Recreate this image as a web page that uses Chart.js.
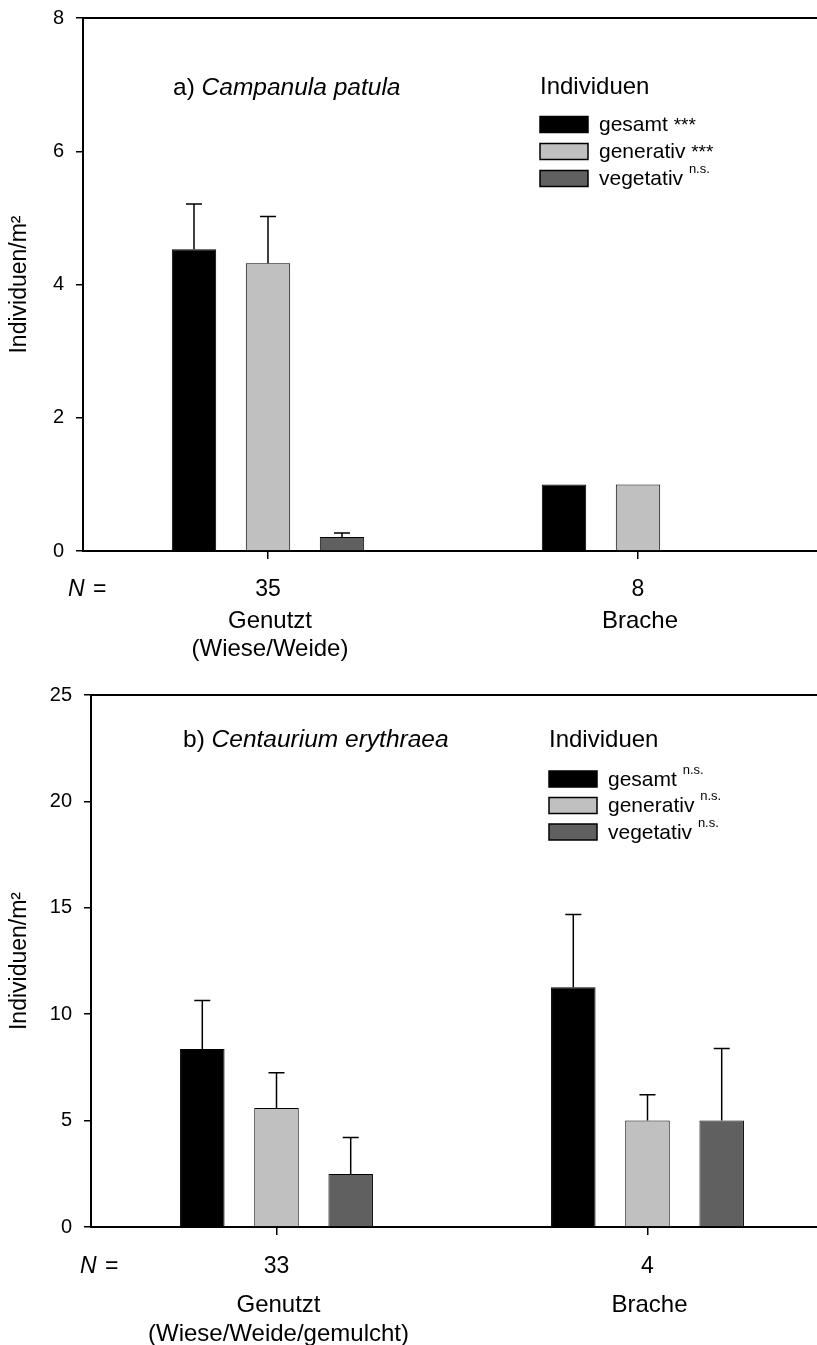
<!DOCTYPE html>
<html>
<head>
<meta charset="utf-8">
<script src="https://cdn.jsdelivr.net/npm/chart.js@4.4.1/dist/chart.umd.min.js"></script>
<style>
  body { margin: 0; background: #fff; overflow: hidden; width: 817px; height: 1345px; }
  canvas { display: block; }
</style>
</head>
<body>
<canvas id="chartA" width="840" height="680"></canvas>
<canvas id="chartB" width="840" height="665"></canvas>
<script>
// a) Campanula patula
const categoriesA = [['Genutzt', '(Wiese/Weide)'], ['Brache']];
const nA = ['35', '8'];
const gesamtA = [4.53, 1.0];
const gesamtErrA = [0.68, 0];
const generativA = [4.32, 1.0];
const generativErrA = [0.70, 0];
const vegetativA = [0.21, 0];
const vegetativErrA = [0.06, 0];
const sigA = ['***', '***', 'n.s.'];
const yTicksA = [0, 2, 4, 6, 8];

// b) Centaurium erythraea
const categoriesB = [['Genutzt', '(Wiese/Weide/gemulcht)'], ['Brache']];
const nB = ['33', '4'];
const gesamtB = [8.37, 11.27];
const gesamtErrB = [2.27, 3.41];
const generativB = [5.59, 5.0];
const generativErrB = [1.66, 1.22];
const vegetativB = [2.49, 5.0];
const vegetativErrB = [1.72, 3.39];
const sigB = ['n.s.', 'n.s.', 'n.s.'];
const yTicksB = [0, 5, 10, 15, 20, 25];

const seriesNames = ['gesamt', 'generativ', 'vegetativ'];
const seriesColors = ['#000000', '#c0c0c0', '#606060'];
const FONT = "'Liberation Sans', Arial, Helvetica, sans-serif";

function font(size, style) {
    return (style || '') + ' ' + size + 'px ' + FONT;
}

// error bars (upper half only) on top of each bar
const errorBars = {
    id: 'errorBars',
    afterDatasetsDraw(chart) {
        const ctx = chart.ctx;
        const y = chart.scales.y;
        ctx.save();
        ctx.strokeStyle = '#000';
        ctx.lineWidth = 1.5;
        chart.data.datasets.forEach((ds, i) => {
            chart.getDatasetMeta(i).data.forEach((bar, j) => {
                const err = ds.errors[j];
                if (!err) return;
                const top = y.getPixelForValue(ds.data[j] + err);
                ctx.beginPath();
                ctx.moveTo(bar.x, bar.y);
                ctx.lineTo(bar.x, top);
                ctx.moveTo(bar.x - 8, top);
                ctx.lineTo(bar.x + 8, top);
                ctx.stroke();
            });
        });
        ctx.restore();
    }
};

// title, legend, top frame line and the category / N labels
const deco = {
    id: 'deco',
    afterDraw(chart, args, o) {
        const ctx = chart.ctx;
        const area = chart.chartArea;
        const xs = chart.scales.x;
        ctx.save();

        ctx.strokeStyle = '#000';
        ctx.lineWidth = 2;
        ctx.beginPath();
        ctx.moveTo(area.left, area.top);
        ctx.lineTo(area.right, area.top);
        ctx.stroke();

        ctx.fillStyle = '#000';
        ctx.textBaseline = 'middle';
        ctx.textAlign = 'left';

        // plot title
        let tx = area.left + o.titleX;
        ctx.font = font(24.5);
        ctx.fillText(o.title[0], tx, area.top + o.titleY);
        tx += ctx.measureText(o.title[0]).width;
        ctx.font = font(24.5, 'italic');
        ctx.fillText(o.title[1], tx, area.top + o.titleY);

        // legend
        const lx = area.left + o.legendX;
        ctx.font = font(24);
        ctx.fillText('Individuen', lx, area.top + o.legendTitleY);
        chart.data.datasets.forEach((ds, i) => {
            const cy = area.top + o.legendY + i * o.legendStep;
            ctx.fillStyle = ds.backgroundColor;
            ctx.fillRect(lx, cy - 8, 48, 16);
            ctx.lineWidth = 1.5;
            ctx.strokeRect(lx, cy - 8, 48, 16);
            ctx.fillStyle = '#000';
            ctx.font = font(21);
            ctx.fillText(ds.label, lx + 59, cy + 1);
            const sx = lx + 59 + ctx.measureText(ds.label + ' ').width;
            if (o.sig[i] === '***') {
                ctx.font = font(19);
                ctx.fillText(o.sig[i], sx, cy + 1);
            } else {
                ctx.font = font(13);
                ctx.fillText(o.sig[i], sx, cy - 9);
            }
        });

        // N = and category labels under the axis
        ctx.font = font(23, 'italic');
        ctx.fillText('N', o.nX, area.bottom + o.nY);
        ctx.font = font(23);
        ctx.fillText(' =', o.nX + ctx.measureText('N').width + 2, area.bottom + o.nY);
        ctx.textAlign = 'center';
        o.n.forEach((n, i) => {
            const x = xs.getPixelForValue(i);
            ctx.fillText(n, x, area.bottom + o.nY);
            ctx.font = font(24);
            o.categories[i].forEach((line, k) => {
                ctx.fillText(line, x + 2, area.bottom + o.catY + k * o.catStep);
            });
            ctx.font = font(23);
        });
        ctx.restore();
    }
};

function buildChart(id, s) {
    const datasets = seriesNames.map((name, i) => ({
        label: name,
        data: s.values[i],
        errors: s.errors[i],
        backgroundColor: seriesColors[i],
        borderColor: '#000',
        borderWidth: 1,
        barPercentage: 0.6,
        categoryPercentage: 0.6
    }));
    return new Chart(document.getElementById(id), {
        type: 'bar',
        data: { labels: s.categories.map(c => c.join(' ')), datasets: datasets },
        plugins: [errorBars, deco],
        options: {
            responsive: false,
            animation: false,
            layout: { padding: { top: s.padTop, right: s.padRight, bottom: 0, left: 0 } },
            plugins: {
                legend: { display: false },
                tooltip: { enabled: false },
                deco: s.deco
            },
            scales: {
                x: {
                    grid: { offset: false, drawOnChartArea: false, color: '#000', lineWidth: 1.5, tickLength: 8 },
                    border: { color: '#000', width: 2 },
                    ticks: { display: false },
                    afterFit: sc => { sc.height = s.xHeight; }
                },
                y: {
                    min: s.yTicks[0],
                    max: s.yTicks[s.yTicks.length - 1],
                    ticks: { stepSize: s.yTicks[1] - s.yTicks[0], color: '#000', font: { family: FONT, size: 20 }, padding: 12 },
                    grid: { drawOnChartArea: false, color: '#000', lineWidth: 1.5, tickLength: 7 },
                    border: { color: '#000', width: 2 },
                    title: { display: true, text: 'Individuen/m²', color: '#000', font: { family: FONT, size: 23 }, padding: { top: 6, bottom: 0 } },
                    afterFit: sc => {
                        sc.width = s.yWidth;
                        // labels may hang over the frame, the layout padding is set by hand
                        sc.paddingTop = 0;
                        sc.paddingBottom = 0;
                    }
                }
            }
        }
    });
}

buildChart('chartA', {
    categories: categoriesA,
    values: [gesamtA, generativA, vegetativA],
    errors: [gesamtErrA, generativErrA, vegetativErrA],
    yTicks: yTicksA,
    padTop: 18, padRight: 17, xHeight: 129, yWidth: 83,
    deco: {
        title: ['a) ', 'Campanula patula'], titleX: 90, titleY: 70,
        legendX: 457, legendTitleY: 69, legendY: 106.5, legendStep: 27,
        sig: sigA,
        nX: 68, nY: 39, catY: 70, catStep: 28,
        n: nA, categories: categoriesA
    }
});

buildChart('chartB', {
    categories: categoriesB,
    values: [gesamtB, generativB, vegetativB],
    errors: [gesamtErrB, generativErrB, vegetativErrB],
    yTicks: yTicksB,
    padTop: 15, padRight: 7, xHeight: 118, yWidth: 91,
    deco: {
        title: ['b) ', 'Centaurium erythraea'], titleX: 92, titleY: 45,
        legendX: 458, legendTitleY: 45, legendY: 84, legendStep: 26.5,
        sig: sigB,
        nX: 80, nY: 40, catY: 78, catStep: 29,
        n: nB, categories: categoriesB
    }
});
</script>
</body>
</html>
